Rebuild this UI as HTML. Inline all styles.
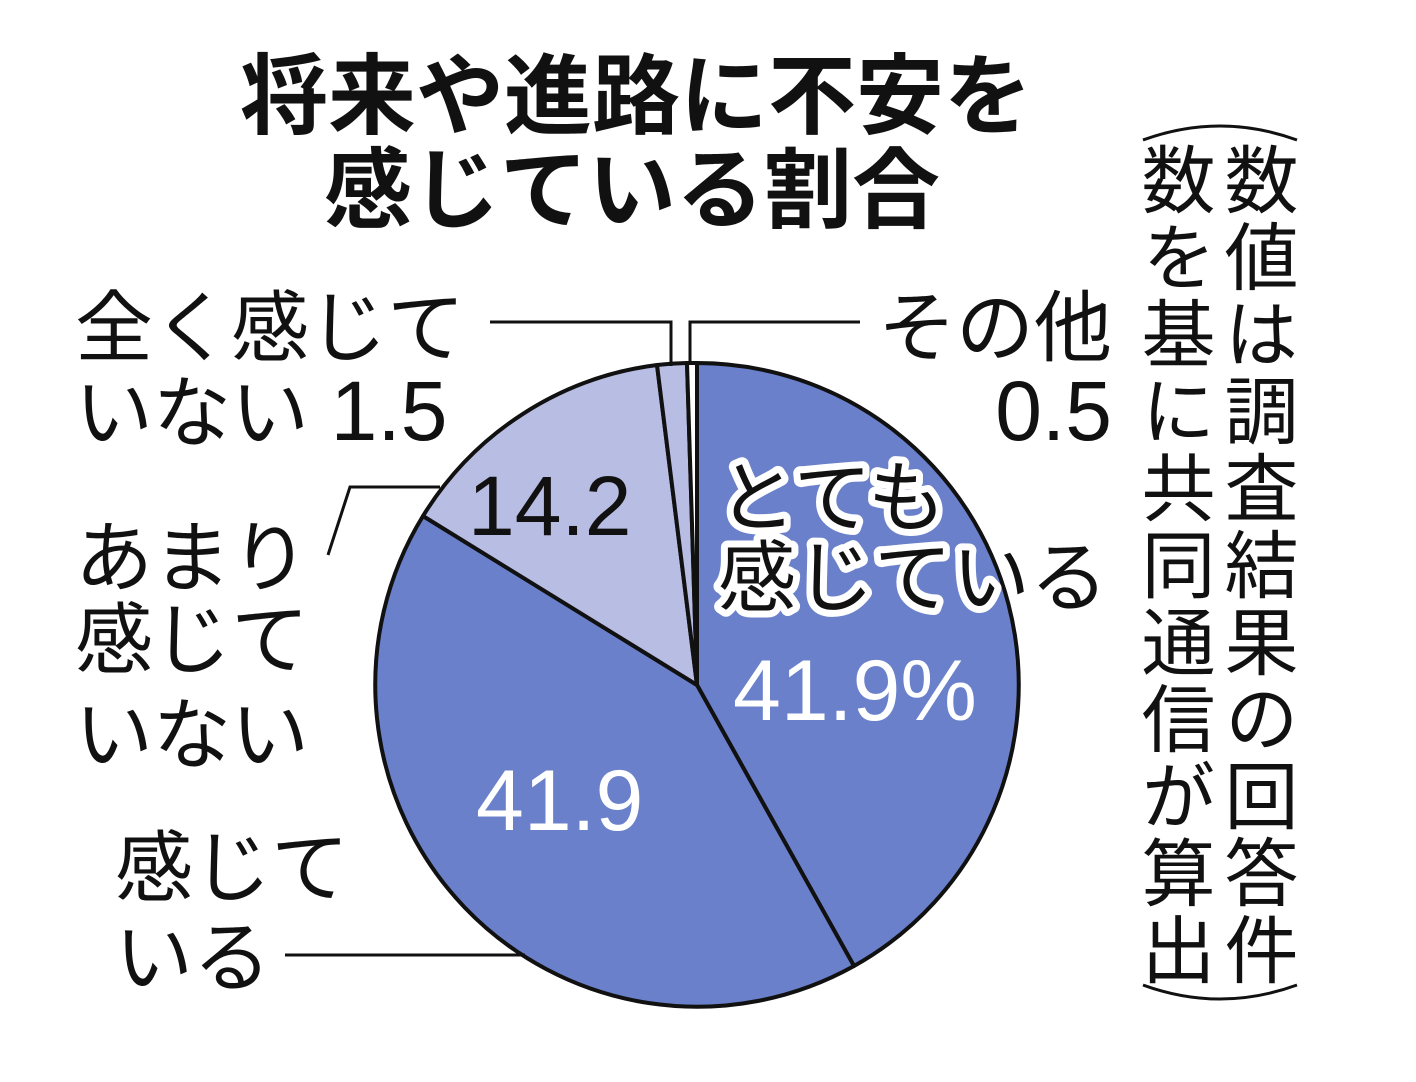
<!DOCTYPE html>
<html><head><meta charset="utf-8"><style>
html,body{margin:0;padding:0;background:#fff;width:1416px;height:1082px;overflow:hidden}
svg{display:block}
text{font-family:"Liberation Sans","Noto Sans CJK JP",sans-serif;fill:#111}
.v{position:absolute;top:142px;writing-mode:vertical-rl;font-family:"Liberation Sans","Noto Sans CJK JP",sans-serif;font-size:74px;line-height:80px;color:#111;letter-spacing:3px}
</style></head><body>
<div style="position:relative;width:1416px;height:1082px">
<svg width="1416" height="1082" viewBox="0 0 1416 1082" style="position:absolute;left:0;top:0">
<g stroke="#111" stroke-width="4" stroke-linejoin="round">
<path d="M697,685 L697,363 A322,322 0 0 1 854,966 Z" fill="#6a80ca"/>
<path d="M697,685 L854,966 A322,322 0 0 1 423,516 Z" fill="#6a80ca"/>
<path d="M697,685 L423,516 A322,322 0 0 1 657,365 Z" fill="#b8bde3"/>
<path d="M697,685 L657,365 A322,322 0 0 1 687,363 Z" fill="#b8bde3"/>
<path d="M697,685 L687,363 A322,322 0 0 1 697,363 Z" fill="#fff"/>
</g>
<g stroke="#111" stroke-width="3" fill="none">
<polyline points="490,322 671,322 671,366"/>
<polyline points="860,322 690,322 690,364"/>
<polyline points="328,555 350,487 440,487"/>
<line x1="285" y1="955" x2="525" y2="955"/>
<path d="M1143,140 Q1220,112 1297,140"/>
<path d="M1143,985 Q1220,1013 1297,985"/>
</g>
<g font-weight="bold" font-size="88">
<text x="636" y="127" text-anchor="middle">将来や進路に不安を</text>
<text x="632" y="221" text-anchor="middle">感じている割合</text>
</g>
<g font-size="78">
<text x="75" y="355">全く感じて</text>
<text x="75" y="440">いない <tspan font-size="84">1.5</tspan></text>
<text x="878" y="355">その他</text>
<text x="1112" y="440" text-anchor="end" font-size="84">0.5</text>
<text x="468" y="535" font-size="84">14.2</text>
<text x="75" y="585">あまり</text>
<text x="75" y="667">感じて</text>
<text x="75" y="762">いない</text>
<text x="115" y="895">感じて</text>
<text x="115" y="985">いる</text>
<g stroke="#fff" stroke-width="14" stroke-linejoin="round" style="paint-order:stroke">
<text x="718" y="525">とても</text>
<text x="718" y="605">感じている</text>
</g>
<text x="733" y="720" font-size="86" style="fill:#fff">41.9%</text>
<text x="476" y="830" font-size="86" style="fill:#fff">41.9</text>
</g>
</svg>
<div class="v" style="left:1215px">数値は調査結果の回答件</div>
<div class="v" style="left:1132px">数を基に共同通信が算出</div>
</div>
</body></html>
